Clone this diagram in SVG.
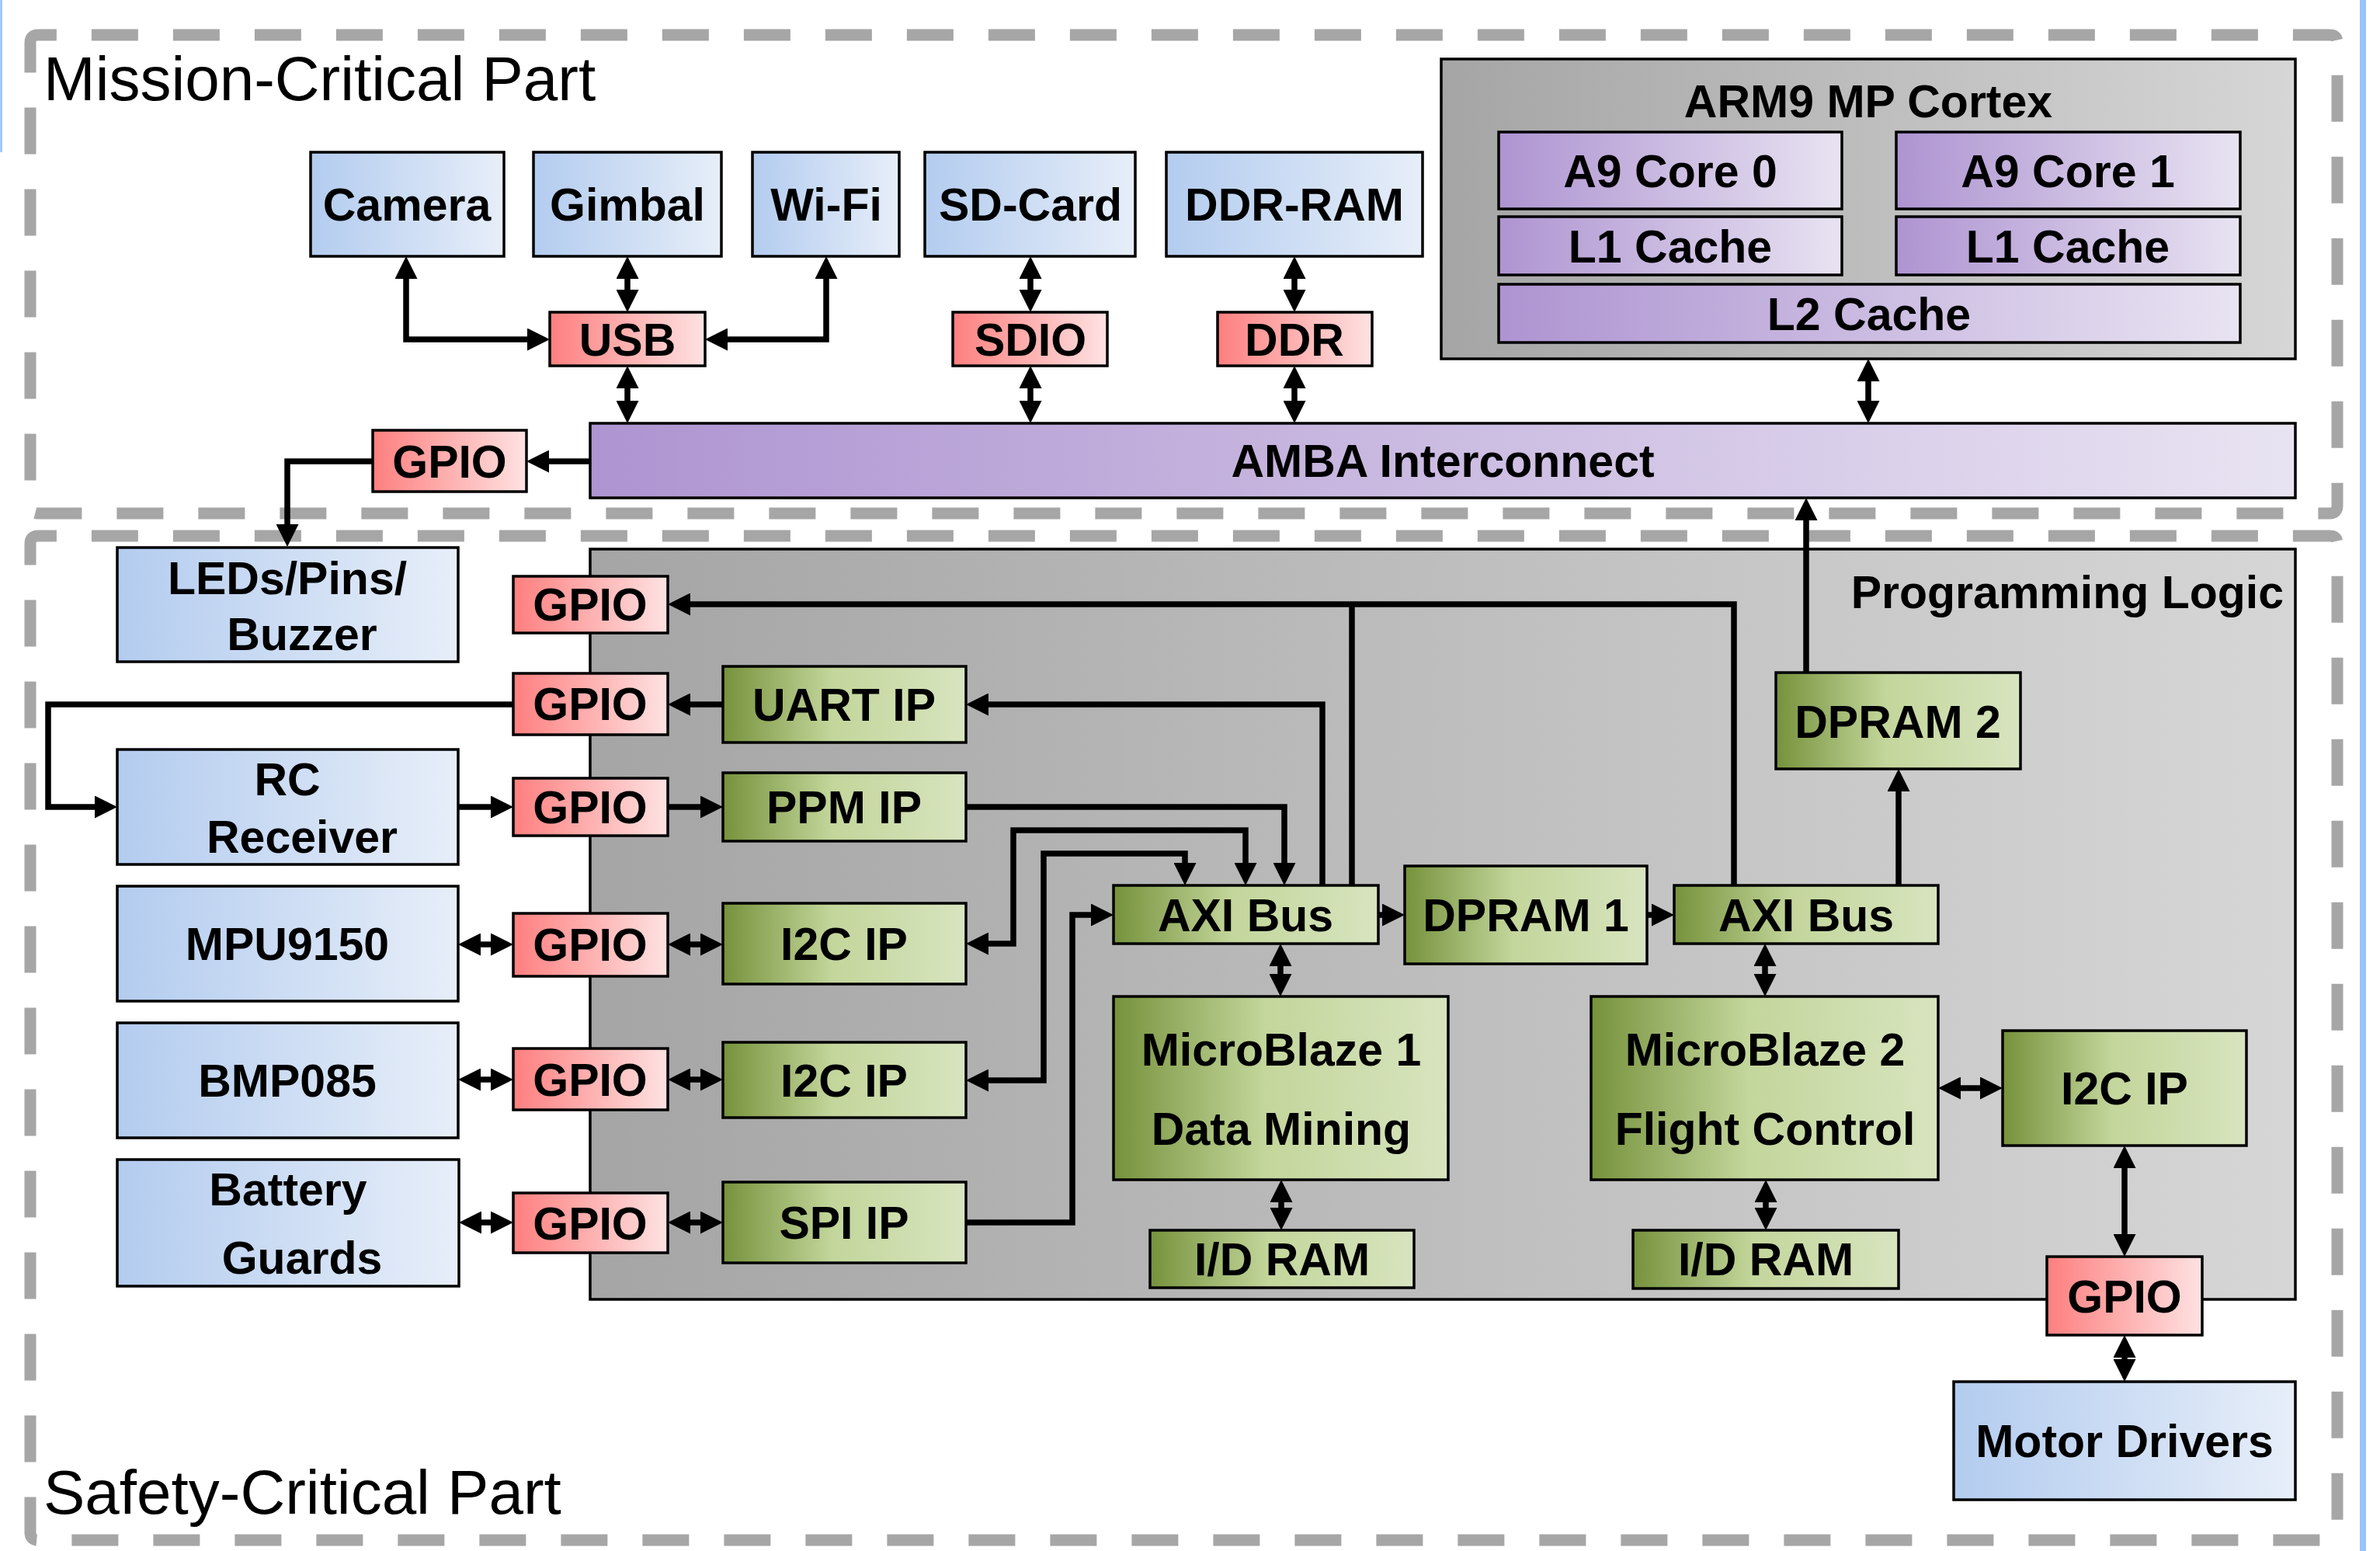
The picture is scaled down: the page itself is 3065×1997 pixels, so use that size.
<svg xmlns="http://www.w3.org/2000/svg" width="3065" height="1997" viewBox="0 0 3065 1997">
<defs>
<linearGradient id="gBlue" x1="0" y1="0" x2="1" y2="0"><stop offset="0" stop-color="#b3ccef"/><stop offset="1" stop-color="#e7eef9"/></linearGradient>
<linearGradient id="gRed" x1="0" y1="0" x2="1" y2="0"><stop offset="0" stop-color="#fe7f7f"/><stop offset="1" stop-color="#fee2e2"/></linearGradient>
<linearGradient id="gPurple" x1="0" y1="0" x2="1" y2="0"><stop offset="0" stop-color="#ae94d1"/><stop offset="1" stop-color="#e8e3f2"/></linearGradient>
<linearGradient id="gGreen" x1="0" y1="0" x2="1" y2="0"><stop offset="0" stop-color="#76923c"/><stop offset="0.45" stop-color="#c3d69b"/><stop offset="1" stop-color="#d8e4bf"/></linearGradient>
<linearGradient id="gGray" x1="0" y1="0" x2="1" y2="0"><stop offset="0" stop-color="#a5a5a5"/><stop offset="1" stop-color="#d6d6d6"/></linearGradient>
<marker id="ah" markerUnits="userSpaceOnUse" markerWidth="29" markerHeight="29" viewBox="0 0 29 29" refX="0" refY="14.5" orient="auto-start-reverse"><path d="M0,0 L29,14.5 L0,29 Z" fill="#000"/></marker>
<style>
.blue{fill:url(#gBlue);stroke:#000;stroke-width:3.5}
.red{fill:url(#gRed);stroke:#000;stroke-width:3.5}
.purple{fill:url(#gPurple);stroke:#000;stroke-width:3.5}
.green{fill:url(#gGreen);stroke:#000;stroke-width:3.5}
.gray{fill:url(#gGray);stroke:#000;stroke-width:3.5}
.t{font-family:"Liberation Sans",Arial,sans-serif;font-weight:bold;font-size:59px;text-anchor:middle;fill:#000}
.part{font-family:"Liberation Sans",Arial,sans-serif;font-size:80px;fill:#000}
.dash{fill:none;stroke:#a6a6a6;stroke-width:15;stroke-dasharray:60 45}
.c{fill:none;stroke:#000;stroke-width:7.5}
.ae{marker-end:url(#ah)}
.ab{marker-start:url(#ah);marker-end:url(#ah)}
</style>
</defs>
<rect x="0" y="0" width="3065" height="1997" fill="#fff"/>
<rect x="0" y="0" width="3" height="196" fill="#a3c9f7"/>
<rect x="3039" y="0" width="8" height="1997" fill="#99c4fb"/>

<g id="regions">
<path class="dash" d="M39,75 V55 Q39,45 49,45 H3000 Q3010,45 3010,55 V651 Q3010,661 3000,661 H49 Q39,661 39,651 Z"/>
<path class="dash" d="M39,720 V700 Q39,690 49,690 H3000 Q3010,690 3010,700 V1973 Q3010,1983 3000,1983 H49 Q39,1983 39,1973 Z"/>
<text class="part" x="56" y="129">Mission-Critical Part</text>
<text class="part" x="56" y="1949">Safety-Critical Part</text>
</g>

<g id="arm9">
<rect class="gray" x="1856" y="76" width="1100" height="386"/>
<text class="t" x="2406" y="151">ARM9 MP Cortex</text>
</g>
<g id="pl">
<rect class="gray" x="760" y="707" width="2196" height="966"/>
<text class="t" x="2941" y="783" style="text-anchor:end">Programming Logic</text>
</g>

<g id="connectors">
<path class="c ab" d="M523,359 V437 H679"/>
<path class="c ab" d="M808,359 V373"/>
<path class="c ab" d="M1064,359 V437 H937"/>
<path class="c ab" d="M808,500 V516"/>
<path class="c ab" d="M1327,359 V373"/>
<path class="c ab" d="M1327,500 V516"/>
<path class="c ab" d="M1667,359 V373"/>
<path class="c ab" d="M1667,500 V516"/>
<path class="c ab" d="M2406,491 V516"/>
<path class="c ae" d="M760,594 H707"/>
<path class="c ae" d="M480,594 H370 V675"/>
<path class="c ae" d="M2326,866 V670"/>
<path class="c ae" d="M2445,1140 V1019"/>
<path class="c ae" d="M2121,1178 H2127"/>
<path class="c ae" d="M1775,1178 H1780"/>
<path class="c ab" d="M1649,1244 V1254"/>
<path class="c ab" d="M2273,1244 V1254"/>
<path class="c ab" d="M1650,1548 V1555"/>
<path class="c ab" d="M2274,1548 V1555"/>
<path class="c ab" d="M2525,1401 H2550"/>
<path class="c ab" d="M2736,1504 V1589"/>
<path class="c ab" d="M2736,1748 V1750"/>
<path class="c ae" d="M2233,1140 V778 H889"/>
<path class="c" d="M1741,1140 V778"/>
<path class="c ae" d="M1703,1140 V907 H1273"/>
<path class="c ae" d="M931,907 H889"/>
<path class="c ae" d="M661,907 H62 V1039 H122"/>
<path class="c ae" d="M590,1039 H632"/>
<path class="c ae" d="M860,1039 H902"/>
<path class="c ae" d="M1244,1039 H1654 V1111"/>
<path class="c ab" d="M1273,1215 H1305 V1069 H1604 V1111"/>
<path class="c ab" d="M1273,1391 H1344 V1099 H1526 V1111"/>
<path class="c ae" d="M1244,1574 H1381 V1178 H1405"/>
<path class="c ab" d="M619,1216 H632"/>
<path class="c ab" d="M889,1216 H902"/>
<path class="c ab" d="M619,1390 H632"/>
<path class="c ab" d="M889,1390 H902"/>
<path class="c ab" d="M620,1574 H632"/>
<path class="c ab" d="M889,1574 H902"/>
</g>

<g id="camera"><rect class="blue" x="400" y="196" width="249" height="134"/><text class="t" x="524" y="284">Camera</text></g>
<g id="gimbal"><rect class="blue" x="687" y="196" width="242" height="134"/><text class="t" x="808" y="284">Gimbal</text></g>
<g id="wifi"><rect class="blue" x="969" y="196" width="189" height="134"/><text class="t" x="1064" y="284">Wi-Fi</text></g>
<g id="sdcard"><rect class="blue" x="1191" y="196" width="271" height="134"/><text class="t" x="1327" y="284">SD-Card</text></g>
<g id="ddrram"><rect class="blue" x="1502" y="196" width="330" height="134"/><text class="t" x="1667" y="284">DDR-RAM</text></g>
<g id="usb"><rect class="red" x="708" y="402" width="200" height="69"/><text class="t" x="808" y="458">USB</text></g>
<g id="sdio"><rect class="red" x="1227" y="402" width="199" height="69"/><text class="t" x="1327" y="458">SDIO</text></g>
<g id="ddr"><rect class="red" x="1568" y="402" width="199" height="69"/><text class="t" x="1667" y="458">DDR</text></g>
<g id="gpio-m"><rect class="red" x="480" y="554" width="198" height="79"/><text class="t" x="579" y="615">GPIO</text></g>
<g id="amba"><rect class="purple" x="760" y="545" width="2196" height="96"/><text class="t" x="1858" y="614">AMBA Interconnect</text></g>
<g id="core0"><rect class="purple" x="1930" y="170" width="442" height="99"/><text class="t" x="2151" y="241">A9 Core 0</text></g>
<g id="core1"><rect class="purple" x="2442" y="170" width="443" height="99"/><text class="t" x="2663" y="241">A9 Core 1</text></g>
<g id="l1c0"><rect class="purple" x="1930" y="279" width="442" height="75"/><text class="t" x="2151" y="338">L1 Cache</text></g>
<g id="l1c1"><rect class="purple" x="2442" y="279" width="443" height="75"/><text class="t" x="2663" y="338">L1 Cache</text></g>
<g id="l2c"><rect class="purple" x="1930" y="366" width="955" height="75"/><text class="t" x="2407" y="425">L2 Cache</text></g>

<g id="leds"><rect class="blue" x="151" y="705" width="439" height="147"/><text class="t" x="370" y="765">LEDs/Pins/</text><text class="t" x="389" y="837">Buzzer</text></g>
<g id="rc"><rect class="blue" x="151" y="965" width="439" height="148"/><text class="t" x="370" y="1024">RC</text><text class="t" x="389" y="1098">Receiver</text></g>
<g id="mpu"><rect class="blue" x="151" y="1141" width="439" height="148"/><text class="t" x="370" y="1236">MPU9150</text></g>
<g id="bmp"><rect class="blue" x="151" y="1317" width="439" height="148"/><text class="t" x="370" y="1412">BMP085</text></g>
<g id="battery"><rect class="blue" x="151" y="1493" width="440" height="163"/><text class="t" x="371" y="1552">Battery</text><text class="t" x="389" y="1640">Guards</text></g>
<g id="motor"><rect class="blue" x="2516" y="1779" width="440" height="152"/><text class="t" x="2736" y="1876">Motor Drivers</text></g>

<g id="gpio-led"><rect class="red" x="661" y="742" width="199" height="73"/><text class="t" x="760" y="799">GPIO</text></g>
<g id="gpio-uart"><rect class="red" x="661" y="867" width="199" height="79"/><text class="t" x="760" y="927">GPIO</text></g>
<g id="gpio-rc"><rect class="red" x="661" y="1002" width="199" height="74"/><text class="t" x="760" y="1060">GPIO</text></g>
<g id="gpio-mpu"><rect class="red" x="661" y="1176" width="199" height="81"/><text class="t" x="760" y="1237">GPIO</text></g>
<g id="gpio-bmp"><rect class="red" x="661" y="1350" width="199" height="79"/><text class="t" x="760" y="1411">GPIO</text></g>
<g id="gpio-bat"><rect class="red" x="661" y="1536" width="199" height="77"/><text class="t" x="760" y="1596">GPIO</text></g>
<g id="gpio-motor"><rect class="red" x="2636" y="1618" width="200" height="101"/><text class="t" x="2736" y="1690">GPIO</text></g>

<g id="uart"><rect class="green" x="931" y="858" width="313" height="98"/><text class="t" x="1087" y="928">UART IP</text></g>
<g id="ppm"><rect class="green" x="931" y="995" width="313" height="88"/><text class="t" x="1087" y="1060">PPM IP</text></g>
<g id="i2c1"><rect class="green" x="931" y="1163" width="313" height="104"/><text class="t" x="1087" y="1236">I2C IP</text></g>
<g id="i2c2"><rect class="green" x="931" y="1342" width="313" height="97"/><text class="t" x="1087" y="1412">I2C IP</text></g>
<g id="spi"><rect class="green" x="931" y="1522" width="313" height="104"/><text class="t" x="1087" y="1595">SPI IP</text></g>
<g id="axi1"><rect class="green" x="1434" y="1140" width="341" height="75"/><text class="t" x="1604" y="1199">AXI Bus</text></g>
<g id="dpram1"><rect class="green" x="1809" y="1115" width="312" height="126"/><text class="t" x="1965" y="1199">DPRAM 1</text></g>
<g id="axi2"><rect class="green" x="2156" y="1140" width="340" height="75"/><text class="t" x="2326" y="1199">AXI Bus</text></g>
<g id="dpram2"><rect class="green" x="2287" y="866" width="315" height="124"/><text class="t" x="2444" y="950">DPRAM 2</text></g>
<g id="mb1"><rect class="green" x="1434" y="1283" width="431" height="236"/><text class="t" x="1650" y="1372">MicroBlaze 1</text><text class="t" x="1650" y="1474">Data Mining</text></g>
<g id="mb2"><rect class="green" x="2049" y="1283" width="447" height="236"/><text class="t" x="2273" y="1372">MicroBlaze 2</text><text class="t" x="2273" y="1474">Flight Control</text></g>
<g id="idram1"><rect class="green" x="1481" y="1584" width="340" height="74"/><text class="t" x="1651" y="1642">I/D RAM</text></g>
<g id="idram2"><rect class="green" x="2103" y="1584" width="342" height="75"/><text class="t" x="2274" y="1642">I/D RAM</text></g>
<g id="i2c3"><rect class="green" x="2579" y="1327" width="314" height="148"/><text class="t" x="2736" y="1422">I2C IP</text></g>
</svg>
